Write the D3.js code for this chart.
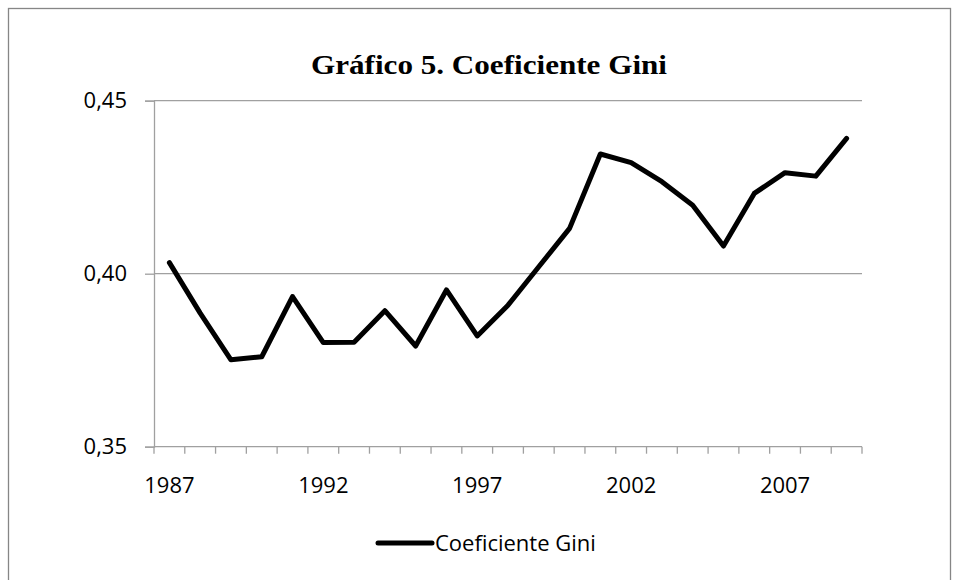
<!DOCTYPE html>
<html>
<head>
<meta charset="utf-8">
<script src="https://cdn.jsdelivr.net/npm/d3@7"></script>
<style>
  body { margin: 0; background: #fff; }
  svg { display: block; }
</style>
</head>
<body>
<svg id="chart" width="959" height="580"></svg>
<script>
// data
const years = ["1987","1988","1989","1990","1991","1992","1993","1994","1995","1996","1997","1998",
               "1999","2000","2001","2002","2003","2004","2005","2006","2007","2008","2009"];
const gini = [0.4032, 0.3886, 0.3751, 0.3760, 0.3934, 0.3801, 0.3802, 0.3893, 0.3791, 0.3953, 0.3820, 0.3909,
              0.4020, 0.4131, 0.4346, 0.4321, 0.4266, 0.4198, 0.4080, 0.4232, 0.4292, 0.4282, 0.4391];
const yTicks = [0.35, 0.40, 0.45];
const xLabels = ["1987", "1992", "1997", "2002", "2007"];
const title = "Gráfico 5. Coeficiente Gini";
const seriesName = "Coeficiente Gini";

const svg = d3.select("#chart");
const plot = { left: 154, right: 862, top: 100.7, bottom: 446.7 };
const gridColor = "#a0a0a0";
const labelFont = "'Open Sans', 'Liberation Sans', sans-serif";

const loc = d3.formatLocale({ decimal: ",", thousands: ".", grouping: [3], currency: ["", ""] });
const fmt = loc.format(".2f");

const x = d3.scaleBand().domain(years).range([plot.left, plot.right]).paddingInner(0).paddingOuter(0);
const y = d3.scaleLinear().domain([0.35, 0.45]).range([plot.bottom, plot.top]);

// outer chart border
svg.append("rect")
    .attr("x", 8.5).attr("y", 8.5)
    .attr("width", 942).attr("height", 590)
    .attr("fill", "none")
    .attr("stroke", "#868686")
    .attr("stroke-width", 1.3);

// title (Palatino-like width, stretched a bit)
svg.append("text")
    .attr("x", 489).attr("y", 74)
    .attr("text-anchor", "middle")
    .attr("textLength", 356)
    .attr("lengthAdjust", "spacingAndGlyphs")
    .style("font-family", "'Liberation Serif', 'DejaVu Serif', serif")
    .style("font-weight", "bold")
    .style("font-size", "27px")
    .text(title);

// gridlines
svg.append("g").selectAll("line")
    .data(yTicks.filter(d => d > 0.35))
    .enter().append("line")
    .attr("x1", plot.left).attr("x2", plot.right)
    .attr("y1", d => y(d)).attr("y2", d => y(d))
    .attr("stroke", gridColor).attr("stroke-width", 1.3);

// y axis
const yAxis = svg.append("g")
    .attr("transform", "translate(" + plot.left + ",0)")
    .call(d3.axisLeft(y).tickValues(yTicks).tickFormat(fmt).tickSize(9).tickPadding(18));
yAxis.select(".domain").attr("stroke", gridColor).attr("stroke-width", 1.3);
yAxis.selectAll(".tick line").attr("stroke", gridColor).attr("stroke-width", 1.3);
yAxis.selectAll("text")
    .style("font-family", labelFont).style("font-size", "22px").attr("fill", "#000");

// x axis: ticks on category boundaries
const edges = years.map(d => x(d)).concat([x(years[years.length - 1]) + x.bandwidth()]);
svg.append("line")
    .attr("x1", plot.left).attr("x2", plot.right)
    .attr("y1", plot.bottom).attr("y2", plot.bottom)
    .attr("stroke", gridColor).attr("stroke-width", 1.3);
svg.append("g").selectAll("line")
    .data(edges)
    .enter().append("line")
    .attr("x1", d => d).attr("x2", d => d)
    .attr("y1", plot.bottom).attr("y2", plot.bottom + 7)
    .attr("stroke", gridColor).attr("stroke-width", 1.3);

const xAxis = svg.append("g")
    .attr("transform", "translate(0," + plot.bottom + ")")
    .call(d3.axisBottom(x).tickValues(xLabels).tickSize(0).tickPadding(31));
xAxis.select(".domain").remove();
xAxis.selectAll("text")
    .style("font-family", labelFont).style("font-size", "22px").attr("fill", "#000");

// series line
const line = d3.line()
    .x((d, i) => x(years[i]) + x.bandwidth() / 2)
    .y(d => y(d));

svg.append("path")
    .datum(gini)
    .attr("d", line)
    .attr("fill", "none")
    .attr("stroke", "#000")
    .attr("stroke-width", 5)
    .attr("stroke-linejoin", "round")
    .attr("stroke-linecap", "round");

// legend
const legend = svg.append("g").attr("transform", "translate(378,543)");
legend.append("line")
    .attr("x1", 0).attr("x2", 54)
    .attr("stroke", "#000").attr("stroke-width", 5).attr("stroke-linecap", "round");
legend.append("text")
    .attr("x", 57).attr("y", 8)
    .style("font-family", labelFont).style("font-size", "22px")
    .text(seriesName);
</script>
</body>
</html>
